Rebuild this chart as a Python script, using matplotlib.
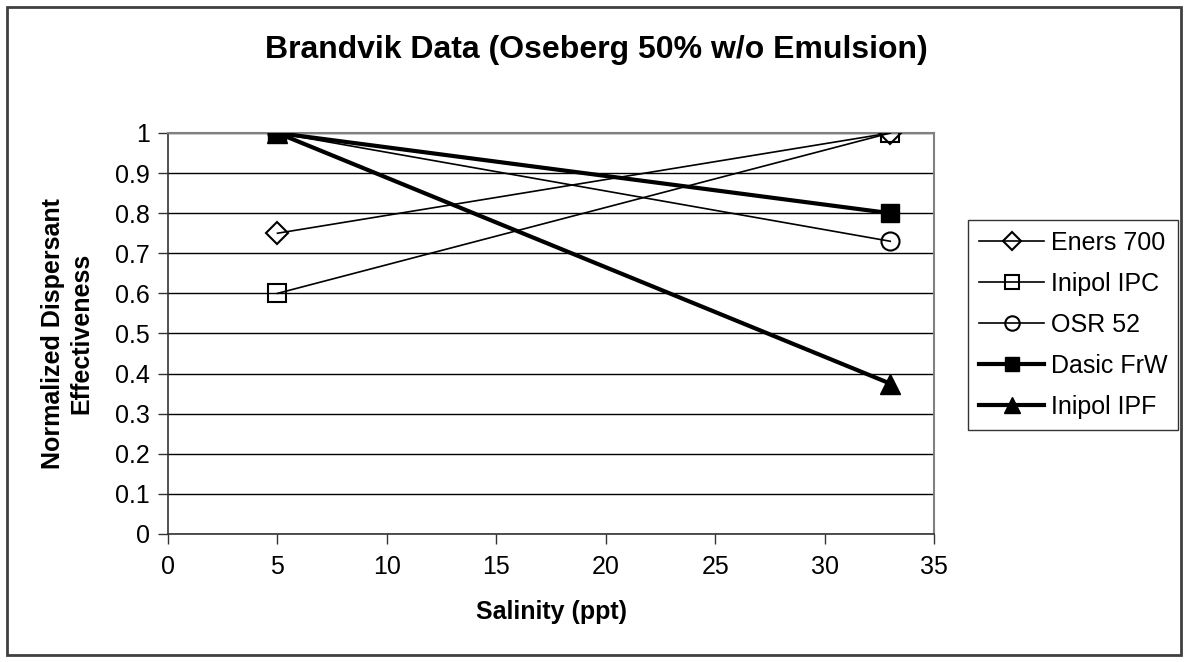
import matplotlib
matplotlib.use("Agg")
import matplotlib.pyplot as plt
from matplotlib.patches import Rectangle

plt.rcParams['font.family'] = ['Liberation Sans', 'DejaVu Sans']

salinity = [5, 33]
series_names = ["Eners 700", "Inipol IPC", "OSR 52", "Dasic FrW", "Inipol IPF"]
eners_700 = [0.75, 1.0]
inipol_ipc = [0.6, 1.0]
osr_52 = [1.0, 0.73]
dasic_frw = [1.0, 0.8]
inipol_ipf = [1.0, 0.375]

fig = plt.figure(figsize=(11.85, 6.62), dpi=100)
ax = fig.add_axes([0.1418, 0.1934, 0.6464, 0.6057])

# thin open-marker series
ax.plot(salinity, eners_700, color='black', lw=1.2, marker='D', ms=11,
        mfc='none', mec='black', mew=1.5, label=series_names[0], zorder=3)
ax.plot(salinity, inipol_ipc, color='black', lw=1.2, marker='s', ms=13,
        mfc='none', mec='black', mew=1.5, label=series_names[1], zorder=3)
ax.plot(salinity, osr_52, color='black', lw=1.2, marker='o', ms=13,
        mfc='none', mec='black', mew=1.5, label=series_names[2], zorder=3)
# thick filled series
ax.plot(salinity, dasic_frw, color='black', lw=3, marker='s', ms=13,
        mfc='black', mec='black', label=series_names[3], zorder=4)
ax.plot(salinity, inipol_ipf, color='black', lw=3, marker='^', ms=15,
        mfc='black', mec='black', label=series_names[4], zorder=4)

ax.set_xlim(0, 35)
ax.set_ylim(0, 1)
ax.set_xticks(range(0, 36, 5))
ax.set_yticks([i / 10 for i in range(11)])
ax.set_yticklabels(['0', '0.1', '0.2', '0.3', '0.4', '0.5', '0.6', '0.7', '0.8', '0.9', '1'])
ax.tick_params(axis='both', labelsize=18, length=7, width=1, color='#333333')
ax.tick_params(axis='x', pad=8)
ax.tick_params(axis='y', pad=6)
ax.grid(axis='y', color='black', lw=1)
ax.set_axisbelow(True)

for side in ['left', 'bottom']:
    ax.spines[side].set_color('#333333')
    ax.spines[side].set_linewidth(1.2)
for side in ['top', 'right']:
    ax.spines[side].set_color('#808080')
    ax.spines[side].set_linewidth(1.5)

ax.set_xlabel("Salinity (ppt)", fontsize=18, fontweight='bold', labelpad=15)
ax.set_ylabel("Normalized Dispersant\nEffectiveness", fontsize=18, fontweight='bold', labelpad=16,
              linespacing=1.2)
fig.text(0.503, 0.925, "Brandvik Data (Oseberg 50% w/o Emulsion)", ha='center', va='center',
         fontsize=23, fontweight='bold')

leg = ax.legend(loc='upper left', bbox_to_anchor=(0.8169, 0.6677), bbox_transform=fig.transFigure,
                fontsize=18, frameon=True, fancybox=False, edgecolor='black', borderaxespad=0,
                handlelength=2.6, labelspacing=0.68, borderpad=0.45, handletextpad=0.25,
                markerscale=0.8)
leg.get_frame().set_linewidth(1)

fig.patches.append(Rectangle((0.006, 0.01), 0.991, 0.98, transform=fig.transFigure,
                             fill=False, edgecolor='#404040', lw=2))

fig.savefig("out.png", dpi=100)
